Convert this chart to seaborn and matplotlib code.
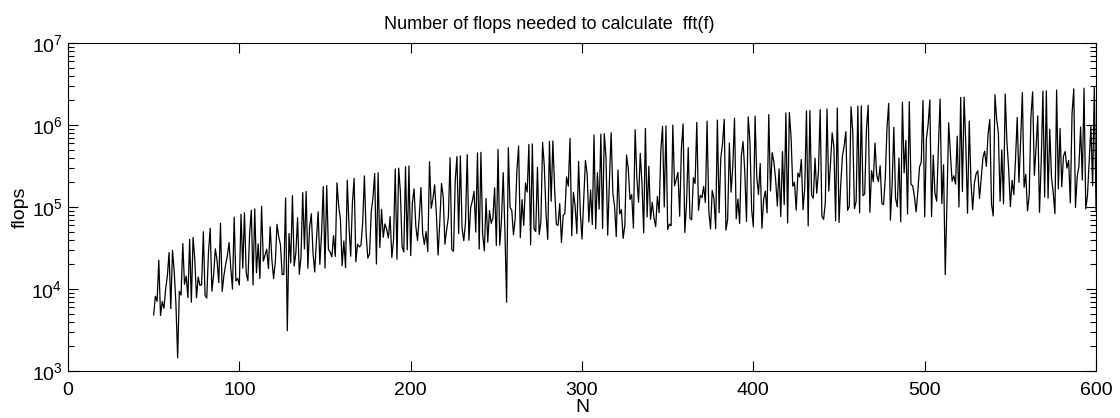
import numpy as np
import pandas as pd
import matplotlib
matplotlib.use("Agg")
import matplotlib.pyplot as plt
import seaborn as sns
from matplotlib.ticker import LogLocator, NullFormatter, MultipleLocator

# transform lengths N = 50 ... 600
n_values = np.arange(50, 601)

# flops, one per N (50 ... 600)
flops = [
    4800, 8160, 7072, 22472, 4752, 7040, 5824, 10032, 14384, 27848,
    5760, 29768, 16368, 6552, 1450, 9360, 8448, 35912, 11424, 14352,
    7840, 40328, 6912, 42632, 23088, 7800, 13984, 11088, 11232, 49928,
    8320, 7776, 28208, 55112, 9408, 14960, 30960, 22272, 11968, 63368,
    9360, 14560, 19872, 25296, 36848, 18240, 9984, 75272, 12544, 13464,
    11200, 81608, 17952, 84872, 15808, 12600, 46640, 91592, 11232, 95048,
    15840, 35520, 13440, 102152, 21888, 25760, 30624, 17784, 57584, 22848,
    13440, 21296, 61488, 43296, 34720, 15000, 15120, 129032, 3100, 47472,
    20800, 137288, 19008, 27664, 73968, 15120, 25024, 150152, 30912, 154568,
    17920, 56400, 82928, 27456, 16128, 39440, 87600, 19992, 48544, 177608,
    18000, 182408, 30400, 28152, 24640, 44640, 24960, 197192, 102384, 71232,
    19200, 38640, 18144, 212552, 59040, 25080, 112880, 223112, 21504, 35152,
    32640, 34200, 64672, 239432, 47328, 23800, 26752, 87792, 129584, 256328,
    20160, 262088, 32032, 93696, 42688, 62160, 53568, 41888, 76704, 24192,
    39520, 291848, 23040, 297992, 153648, 32760, 28224, 310472, 30096, 316808,
    25600, 112560, 166448, 58464, 39168, 75440, 173040, 48024, 34944, 50160,
    28560, 356168, 96672, 126096, 186608, 82560, 25920, 65968, 193584, 133152,
    35200, 53040, 74592, 397832, 30464, 28800, 207920, 412232, 47424, 419528,
    55200, 38808, 64960, 434312, 39312, 97760, 118944, 155472, 49504, 456968,
    30720, 464648, 46464, 29160, 126880, 37240, 90528, 63232, 73408, 171312,
    34000, 504008, 34272, 68816, 262128, 51000, 6900, 528392, 99072, 91168,
    45760, 73080, 278768, 553352, 42240, 122960, 59584, 196512, 152224, 578888,
    34560, 587528, 54400, 50232, 304688, 46200, 66240, 613832, 313584, 82584,
    40320, 631688, 117312, 640712, 170400, 61560, 59488, 110208, 36864, 78608,
    83520, 232800, 179872, 686792, 44688, 151040, 101824, 47520, 359984, 86112,
    40800, 120400, 369648, 252096, 65664, 161040, 61200, 753992, 54208, 262032,
    94240, 773768, 54912, 783752, 399408, 45360, 209824, 803912, 147552, 102080,
    43520, 282480, 82432, 93024, 41472, 59800, 430320, 292992, 123328, 142128,
    55440, 876488, 231072, 114552, 451568, 192960, 48384, 908552, 75712, 314592,
    70720, 114576, 73872, 57624, 134848, 85560, 484400, 963272, 100224, 974408,
    53200, 61776, 59136, 996872, 181248, 215840, 264864, 77112, 518384, 1031048,
    48960, 109744, 529968, 72600, 69888, 227760, 193248, 1077512, 91264, 138744,
    130240, 178080, 113088, 1113032, 89760, 54000, 159424, 126672, 54432, 1149128,
    85120, 396240, 589808, 1173512, 52224, 70840, 602160, 151704, 313504, 1210568,
    71760, 125120, 62720, 421296, 627248, 265440, 66528, 1260872, 640032, 92568,
    57600, 1286408, 231552, 141856, 339360, 55080, 123424, 156288, 84864, 1338248,
    157440, 460320, 352672, 218064, 102672, 292160, 76544, 473712, 107008, 1404488,
    63840, 1417928, 719088, 179352, 200128, 91800, 259008, 232288, 380064, 92664,
    172000, 1486088, 58752, 1499912, 138880, 128760, 394144, 146832, 273312, 1541768,
    77440, 70560, 113152, 1569992, 156288, 334640, 802800, 543552, 68096, 1612808,
    64800, 187616, 423072, 558096, 831728, 91000, 102144, 1670792, 846384, 95472,
    117760, 1700168, 85008, 1714952, 137344, 145080, 876080, 1744712, 86112, 277648,
    203040, 602880, 245440, 204336, 318528, 110200, 106624, 225144, 921584, 1835528,
    69120, 192400, 937008, 127512, 100672, 395760, 66096, 1897352, 261568, 649392,
    82320, 1928648, 188928, 181424, 134368, 87120, 154752, 310128, 350592, 1992008,
    76000, 681360, 1016048, 2024072, 76608, 428240, 145728, 117624, 532384, 2072648,
    110160, 327040, 15000, 114912, 1064992, 444960, 206400, 239888, 190624, 730752,
    99840, 2171528, 154512, 2188232, 565920, 84000, 1115120, 202368, 92928, 194672,
    254400, 276120, 127680, 230256, 401568, 479360, 313024, 781872, 1166384, 107800,
    77760, 2341448, 1183728, 799296, 117504, 497040, 109200, 2393672, 618144, 294264,
    101200, 211584, 141312, 380464, 1236528, 199800, 636064, 2481992, 174096, 250432,
    89600, 139128, 1272368, 2535752, 243648, 533360, 1290480, 86184, 349888, 2590088,
    132240, 2608328, 128128, 889296, 229600, 151800, 82944, 2663432, 166464, 907872,
    176320, 418320, 474912, 298496, 369088, 112320, 1382960, 2756552, 98784, 235600,
    311520, 945600, 213120, 2813192, 95040, 138040, 364752, 964776, 181792, 2870408,
    91200,
]

df = pd.DataFrame({"N": n_values, "flops": flops})

sns.set_style("white")
plt.rcParams["font.family"] = ["Liberation Sans", "DejaVu Sans"]
plt.rcParams["mathtext.fontset"] = "custom"
plt.rcParams["mathtext.rm"] = "Liberation Sans"
plt.rcParams["text.color"] = "black"
plt.rcParams["axes.labelcolor"] = "black"

fig = plt.figure(figsize=(11.2, 4.18), dpi=100)
ax = fig.add_axes([0.0607, 0.1124, 0.9179, 0.7847])

sns.lineplot(data=df, x="N", y="flops", color="black", linewidth=0.9, ax=ax)

ax.set_yscale("log")
ax.set_xlim(0, 600)
ax.set_ylim(1e3, 1e7)
ax.xaxis.set_major_locator(MultipleLocator(100))
ax.yaxis.set_major_locator(LogLocator(base=10, numticks=10))
ax.yaxis.set_minor_locator(LogLocator(base=10, subs=np.arange(2, 10), numticks=20))
ax.yaxis.set_minor_formatter(NullFormatter())

ax.tick_params(which="both", direction="in", left=True, bottom=True, top=True, right=True,
               width=0.8, labelsize=14, colors="black")
ax.tick_params(which="major", length=7)
ax.tick_params(which="minor", length=4)
ax.tick_params(axis="x", pad=8)
ax.tick_params(axis="y", pad=4)
for s in ax.spines.values():
    s.set_linewidth(0.8)
    s.set_color("black")

ax.set_title("Number of flops needed to calculate  fft(f)", fontsize=13, x=0.468, pad=10,
             color="black")
ax.set_xlabel("N", fontsize=14, labelpad=0)
ax.set_ylabel("flops", fontsize=14, labelpad=2)

fig.savefig("out.png", dpi=100)
